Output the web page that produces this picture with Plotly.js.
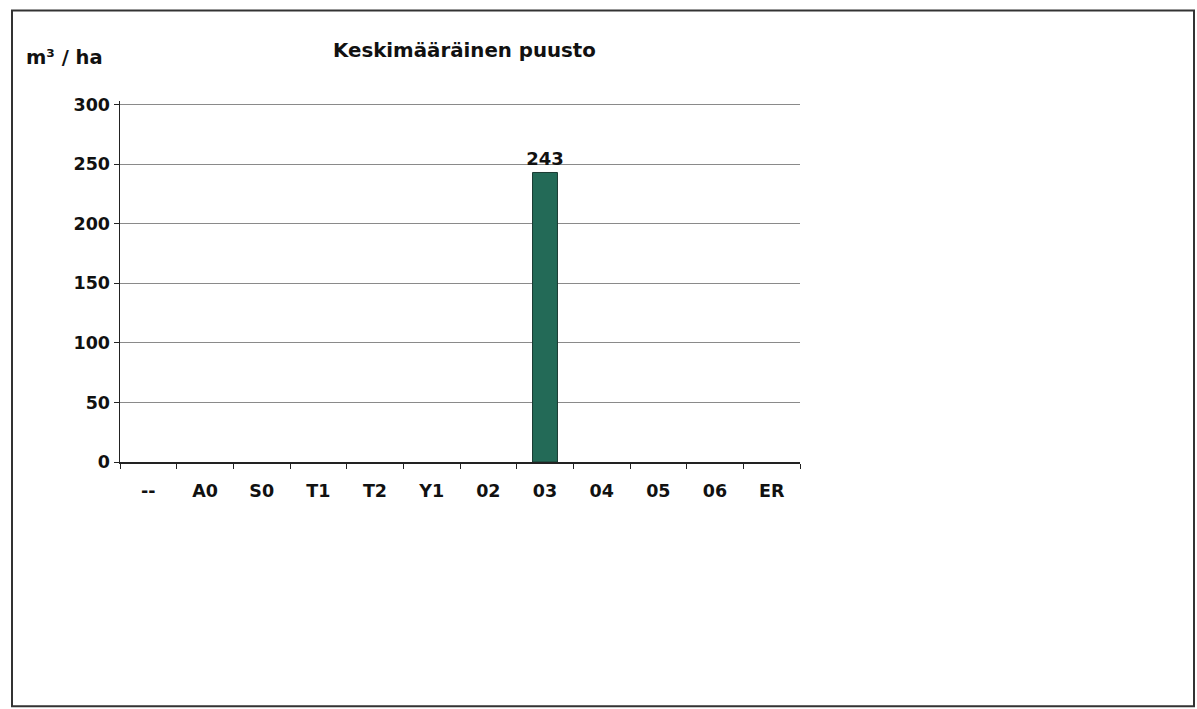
<!DOCTYPE html>
<html><head><meta charset="utf-8">
<script src="https://cdn.plot.ly/plotly-3.0.1.min.js"></script>
<style>html,body{margin:0;padding:0;background:#fff}#chart{width:1197px;height:709px}</style>
</head><body><div id="chart"></div>
<script>
const categories = ['--','A0','S0','T1','T2','Y1','02','03','04','05','06','ER'];
const volumes = [null,null,null,null,null,null,null,243,null,null,null,null];
const yTicks = [0,50,100,150,200,250,300];
const titleText = 'Keskimääräinen puusto';
const unitText = 'm³ / ha';

const FONT = 'DejaVu Sans, Verdana, sans-serif';
const trace = {
  type:'bar', x:categories, y:volumes,
  text: volumes.map(v => v ? String(v) : ''),
  textposition:'outside', cliponaxis:false, constraintext:'none',
  textfont:{family:FONT, size:18, color:'#111', weight:'bold'},
  marker:{color:'#236a57', line:{color:'#1b3b33', width:1}},
  width:0.44, hoverinfo:'skip'
};
const YMAX = 303;
const W=680, L=120, B0=462, H=357*YMAX/300, T=B0-H;
const px = x => (x-L)/W, py = y => (B0-y)/H;
const layout = {
  width:1197, height:709, margin:{l:L, r:1197-L-W, t:T, b:709-B0},
  paper_bgcolor:'#fff', plot_bgcolor:'#fff', showlegend:false,
  font:{family:FONT, color:'#111'},
  xaxis:{type:'category', tickson:'boundaries', ticks:'outside', ticklen:5, tickcolor:'#222',
    showline:true, linecolor:'#222', linewidth:1.5, showgrid:false, ticklabelstandoff:12,
    tickfont:{family:FONT, size:17.5, color:'#111', weight:'bold'}, fixedrange:true},
  yaxis:{range:[0,YMAX], tickvals:yTicks, ticks:'outside', ticklen:5, tickcolor:'#222',
    showline:true, linecolor:'#222', linewidth:1.5, showgrid:true, gridcolor:'#8a8a8a', gridwidth:1,
    zeroline:false, tickfont:{family:FONT, size:17.5, color:'#111', weight:'bold'}, ticklabelstandoff:0, fixedrange:true},
  shapes:[
    {type:'rect', xref:'paper', yref:'paper', x0:px(12), x1:px(1194), y0:py(706), y1:py(11),
     line:{color:'#333', width:2}, fillcolor:'rgba(0,0,0,0)'}
  ],
  annotations:[
    {text:titleText, xref:'paper', yref:'paper', x:px(464), y:py(51), xanchor:'center', yanchor:'middle',
     showarrow:false, font:{family:FONT, size:19.8, color:'#111', weight:'bold'}},
    {text:unitText, xref:'paper', yref:'paper', x:px(24), y:py(58), xanchor:'left', yanchor:'middle',
     showarrow:false, font:{family:FONT, size:19.5, color:'#111', weight:'bold'}}
  ]
};
Plotly.newPlot('chart',[trace],layout,{displayModeBar:false, staticPlot:true});
</script></body></html>
